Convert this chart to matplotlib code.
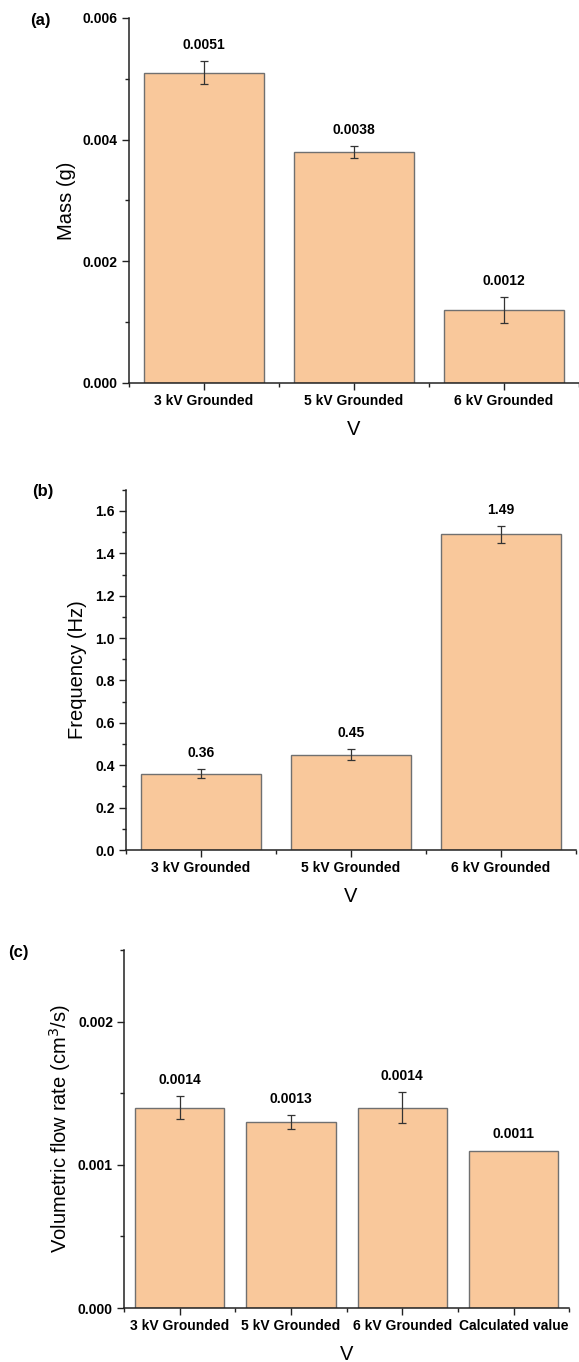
import matplotlib
matplotlib.use("Agg")
import matplotlib.pyplot as plt
from matplotlib.ticker import MultipleLocator, FormatStrFormatter

plt.rcParams['font.family'] = ['Liberation Sans', 'DejaVu Sans']

# Data
groups_abc = ["3 kV Grounded", "5 kV Grounded", "6 kV Grounded"]
groups_c = ["3 kV Grounded", "5 kV Grounded", "6 kV Grounded", "Calculated value"]

mass = [0.0051, 0.0038, 0.0012]
mass_err = [0.00019, 0.0001, 0.00022]
mass_labels = ["0.0051", "0.0038", "0.0012"]

freq = [0.36, 0.45, 1.49]
freq_err = [0.02, 0.025, 0.04]
freq_labels = ["0.36", "0.45", "1.49"]

flow = [0.0014, 0.0013, 0.0014, 0.0011]
flow_err = [0.00008, 0.00005, 0.00011, 0.0]
flow_labels = ["0.0014", "0.0013", "0.0014", "0.0011"]

BAR = "#F9C89B"
EDGE = "#707070"

fig = plt.figure(figsize=(5.79, 13.62), dpi=100)


def panel(rect, cats, vals, errs, labels, ylim, major, minor, fmt, ylabel, ylab_x):
    ax = fig.add_axes(rect)
    x = list(range(len(cats)))
    ax.bar(x, vals, width=0.8, color=BAR, edgecolor=EDGE, linewidth=1.0, zorder=2)
    for xi, v, e in zip(x, vals, errs):
        if e > 0:
            ax.errorbar(xi, v, yerr=e, fmt='none', ecolor='#333333',
                        elinewidth=0.9, capsize=3, capthick=0.9, zorder=3)
    for xi, v, e, lab in zip(x, vals, errs, labels):
        ax.annotate(lab, (xi, v + e), xytext=(0, 6.5), textcoords='offset points',
                    ha='center', va='bottom', fontsize=10, fontweight='bold')
    ax.set_xlim(-0.5, len(cats) - 0.5)
    ax.set_ylim(*ylim)
    ax.set_xticks(x)
    ax.set_xticklabels(cats, fontsize=10, fontweight='bold')
    ax.set_xticks([i - 0.5 for i in range(len(cats) + 1)], minor=True)
    ax.yaxis.set_major_locator(MultipleLocator(major))
    ax.yaxis.set_minor_locator(MultipleLocator(minor))
    ax.yaxis.set_major_formatter(FormatStrFormatter(fmt))
    for lab in ax.get_yticklabels():
        lab.set_fontweight('bold')
        lab.set_fontsize(10)
    ax.tick_params(which='major', direction='out', length=5, width=1, colors='#222222',
                   labelcolor='black', pad=3)
    ax.tick_params(which='minor', direction='out', length=3, width=1, colors='#222222')
    for s in ['top', 'right']:
        ax.spines[s].set_visible(False)
    for s in ['left', 'bottom']:
        ax.spines[s].set_color('#222222')
        ax.spines[s].set_linewidth(1.1)
    ax.set_ylabel(ylabel, fontsize=14.5)
    ax.yaxis.set_label_coords(ylab_x, 0.5)
    ax.set_xlabel("V", fontsize=14.5, labelpad=8.5)
    return ax


ax1 = panel([0.2222, 0.7188, 0.778, 0.2680], groups_abc, mass, mass_err, mass_labels,
            (0, 0.006), 0.002, 0.001, '%.3f', "Mass (g)", -0.116)
ax2 = panel([0.2176, 0.3759, 0.777, 0.2645], groups_abc, freq, freq_err, freq_labels,
            (0, 1.7), 0.2, 0.1, '%.1f', "Frequency (Hz)", -0.086)
ax3 = panel([0.2142, 0.0396, 0.769, 0.2629], groups_c, flow, flow_err, flow_labels,
            (0, 0.0025), 0.001, 0.0005, '%.3f', "Volumetric flow rate (cm$^3$/s)", -0.114)

fig.text(0.052, 1 - 21 / 1362, "(a)", fontsize=12, fontweight='bold', va='center')
fig.text(0.055, 1 - 492 / 1362, "(b)", fontsize=12, fontweight='bold', va='center')
fig.text(0.014, 1 - 952 / 1362, "(c)", fontsize=12, fontweight='bold', va='center')

fig.savefig("out.png", dpi=100)
